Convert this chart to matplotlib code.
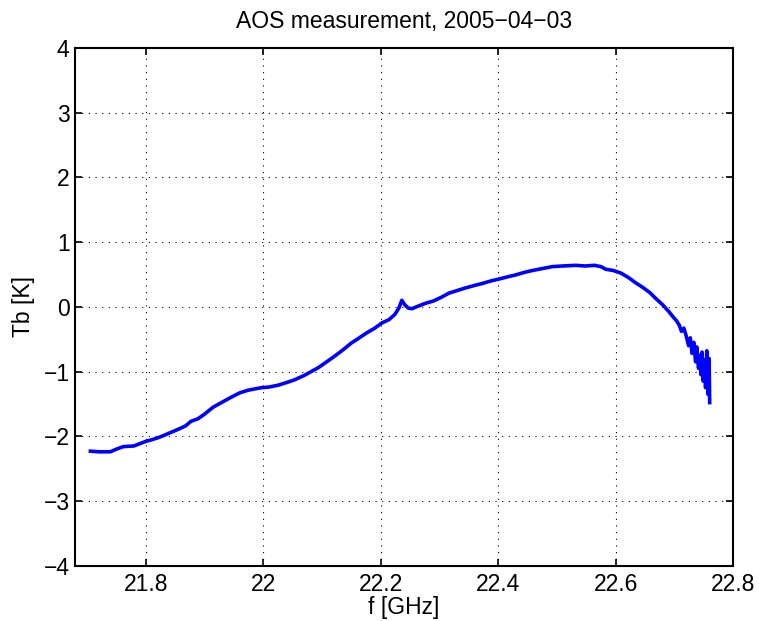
import matplotlib
matplotlib.use('Agg')
import matplotlib.pyplot as plt
import numpy as np

# values
freq = [21.706, 21.72, 21.74, 21.75, 21.762, 21.78, 21.80, 21.812, 21.825, 21.838,
        21.856, 21.868, 21.877, 21.889, 21.90, 21.915, 21.923, 21.935, 21.945, 21.96,
        21.974, 21.985, 21.997, 22.01, 22.026, 22.04, 22.053, 22.07, 22.082, 22.094,
        22.105, 22.116, 22.128, 22.138, 22.15, 22.162, 22.175, 22.19, 22.202, 22.214,
        22.224, 22.231, 22.236, 22.241, 22.247, 22.253, 22.264, 22.275, 22.29, 22.304,
        22.316, 22.33, 22.344, 22.36, 22.373, 22.388, 22.402, 22.415, 22.429, 22.444,
        22.458, 22.475, 22.492, 22.51, 22.532, 22.548, 22.564, 22.575, 22.583, 22.596,
        22.609, 22.622, 22.634, 22.646, 22.658, 22.668, 22.68, 22.69, 22.698, 22.703,
        22.708, 22.712, 22.716, 22.72, 22.724, 22.727, 22.730, 22.733, 22.736, 22.738,
        22.741, 22.743, 22.745, 22.747, 22.749, 22.751, 22.753, 22.755, 22.757, 22.759,
        22.760]
tb = [-2.23, -2.24, -2.24, -2.20, -2.16, -2.15, -2.08, -2.05, -2.01, -1.96,
      -1.89, -1.84, -1.77, -1.73, -1.66, -1.55, -1.51, -1.45, -1.40, -1.33,
      -1.29, -1.27, -1.25, -1.24, -1.21, -1.17, -1.13, -1.06, -1.00, -0.94,
      -0.87, -0.80, -0.72, -0.65, -0.56, -0.49, -0.41, -0.33, -0.25, -0.20,
      -0.12, -0.02, 0.10, 0.03, -0.02, -0.03, 0.01, 0.05, 0.09, 0.15,
      0.21, 0.25, 0.29, 0.33, 0.36, 0.40, 0.43, 0.46, 0.49, 0.53,
      0.56, 0.59, 0.62, 0.63, 0.64, 0.63, 0.64, 0.62, 0.58, 0.56,
      0.52, 0.45, 0.37, 0.30, 0.22, 0.13, 0.03, -0.07, -0.16, -0.21,
      -0.28, -0.38, -0.33, -0.45, -0.60, -0.48, -0.72, -0.55, -0.85, -0.62,
      -0.95, -0.75, -1.05, -0.70, -1.15, -0.82, -1.25, -0.68, -1.35, -0.80,
      -1.48]

xticks = [21.8, 22.0, 22.2, 22.4, 22.6, 22.8]
xtick_labels = ['21.8', '22', '22.2', '22.4', '22.6', '22.8']
yticks = [-4, -3, -2, -1, 0, 1, 2, 3, 4]

plt.rcParams['font.family'] = ['Liberation Sans', 'DejaVu Sans']
fs = 16.5

fig = plt.figure(figsize=(7.59, 6.21), dpi=100)
ax = fig.add_axes([0.099, 0.089, 0.867, 0.834])
ax.plot(freq, tb, color='#0000ff', linewidth=2.6)

ax.set_xlim(21.68, 22.8)
ax.set_ylim(-4, 4)
ax.set_xticks(xticks)
ax.set_xticklabels(xtick_labels)
ax.set_yticks(yticks)
ax.set_yticklabels([str(v).replace('-', '\u2212') for v in yticks])
ax.tick_params(direction='in', top=True, right=True, length=5, width=1.2, labelsize=fs)
ax.tick_params(axis='x', pad=5)
ax.tick_params(axis='y', pad=4)
ax.grid(True, color='black', linestyle=(0, (1, 5)), linewidth=0.8)
for s in ax.spines.values():
    s.set_linewidth(1.5)

ax.set_title('AOS measurement, 2005\u221204\u221203', fontsize=fs, pad=14)
ax.set_xlabel('f [GHz]', fontsize=fs, labelpad=0)
ax.set_ylabel('Tb [K]', fontsize=fs, labelpad=6)

fig.savefig('out.png', dpi=100)
